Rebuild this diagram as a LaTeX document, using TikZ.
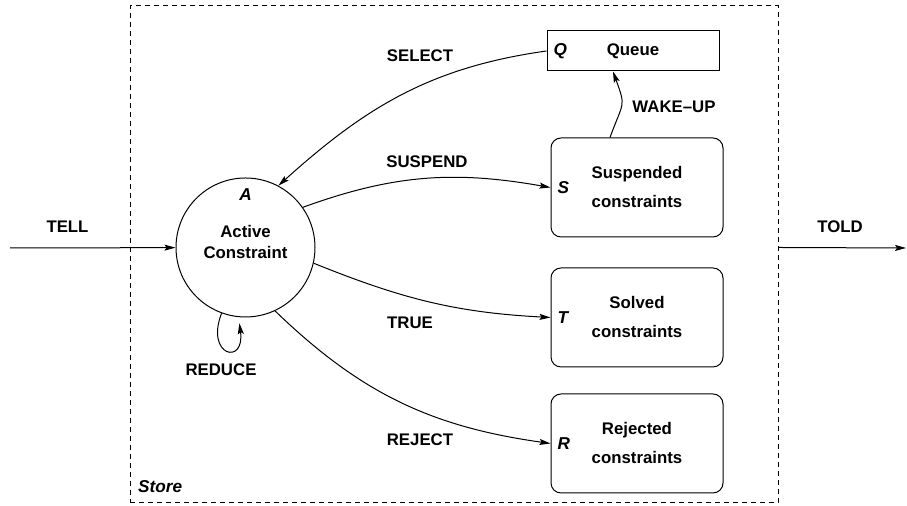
\documentclass[tikz,border=0pt]{standalone}
\usepackage{fontspec}
\setmainfont{Liberation Sans}
\usetikzlibrary{positioning,arrows.meta}

\begin{document}
\begin{tikzpicture}[x=0.5pt, y=0.5pt, node distance={15pt}, line width=0.5pt,
        font=\fontsize{8.4}{10.5}\selectfont\bfseries,
        main/.style = {draw, circle, minimum size=69.5pt, inner sep=0pt, align=center},
        cbox/.style = {draw, rounded corners=5pt, minimum width=86pt, minimum height=49.5pt, align=center, font=\fontsize{8.4}{14.5}\selectfont\bfseries},
        qbox/.style = {draw, minimum width=86pt, minimum height=20pt},
        tag/.style = {font=\fontsize{8.6}{10}\selectfont\bfseries\itshape},
        store/.style = {draw, dash pattern=on 2.5pt off 2pt, minimum width=324pt, minimum height=248.5pt},
        flow/.style = {-{Stealth[length=5.5pt, width=3pt, inset=1pt]}}]
        \useasboundingbox (0,0) rectangle (907,506);
        \node[store] (store) at (454,251.5) {};
        \node[main, text depth=6pt, label={[tag, anchor=north, yshift=-2pt]north:A}] (A) at (245.5,258.5) {Active\\Constraint};
        \node[cbox, label={[tag, anchor=west]west:S}] (S) at (637,318.5) {Suspended\\constraints};
        \node[cbox, label={[tag, anchor=west]west:T}] (T) [below=of S] {Solved\\constraints};
        \node[cbox, label={[tag, anchor=west]west:R}] (R) [below=13pt of T] {Rejected\\constraints};
        \node[qbox, label={[tag, anchor=west]west:Q}] (Q) [above=33pt of S, xshift=-2pt] {Queue};
        % labels
        \node (ltell) at (67.5,279) {TELL};
        \node (ltold) at (840,279) {TOLD};
        \node (lselect) at (420,450) {SELECT};
        \node (lsuspend) at (427,344) {SUSPEND};
        \node (lwake) at (674,399) {WAKE--UP};
        \node (ltrue) at (410,183) {TRUE};
        \node (lreject) at (420,66) {REJECT};
        \node (lreduce) at (221,136) {REDUCE};
        \node[tag, anchor=west] (lstore) at (131,19) {Store};
        % connectors
        \coordinate (tell) at (10,258);
        \coordinate (told) at (906,258);
        \coordinate (loopend) at ([yshift=-3pt]A.265);
        \draw[flow] (tell) -- (A);
        \draw[flow] (store.east |- A) -- (told);
        \draw[flow] (Q.west) to[out=188, in=42] (A.62);
        \draw[flow] (A.35) to[out=20, in=170] (S.west);
        \draw[flow] (A.-13) to[out=-22, in=177] (T.west);
        \draw[flow] (A.-65) to[out=-44, in=172] (R.west);
        \draw[flow] ([xshift=-13.5pt]S.north) to[out=70, in=-70, looseness=1.5] ([xshift=-10pt]Q.south);
        \draw[flow] (A.250) .. controls (205,150) and (245,140) .. (loopend);
\end{tikzpicture}
\end{document}
